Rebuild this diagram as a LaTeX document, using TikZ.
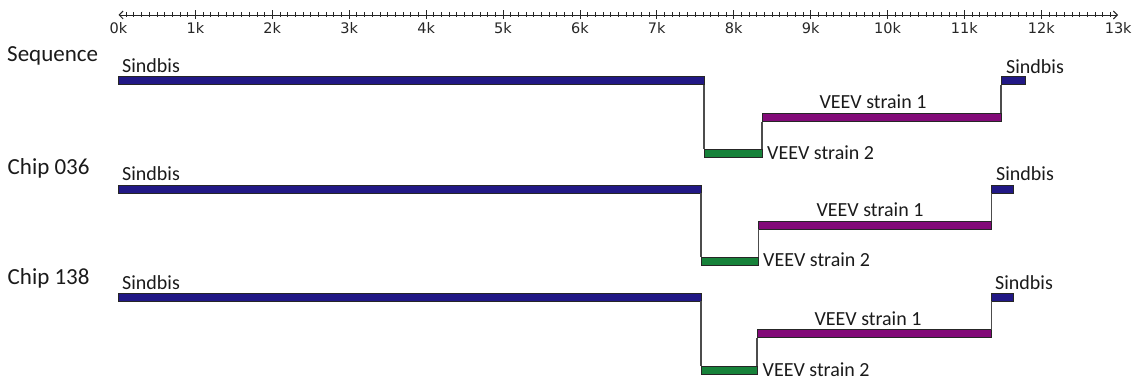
\documentclass[tikz,border=0pt]{standalone}
\usepackage{fontspec}
\setmainfont{Carlito}
\newfontfamily\axisfont{DejaVu Sans}
\usetikzlibrary{arrows.meta}
\definecolor{sbcol}{HTML}{211885}
\definecolor{v1col}{HTML}{820A78}
\definecolor{v2col}{HTML}{17823A}
\definecolor{txt}{HTML}{1A1A1A}
\newcommand{\mkseg}[5]{\node[seg, fill=#5, minimum width={(#3)-(#2)}] (#1) at (#2,#4) {};}
\begin{document}
\begin{tikzpicture}[x=1pt,y=-1pt,
  seg/.style={draw=black!85, line width=0.9pt, inner sep=0pt, outer sep=0pt, minimum height=8.2pt, anchor=north west},
  conn/.style={draw=black!70, line width=1.2pt},
  lbl/.style={font=\fontsize{20}{24}\selectfont, inner sep=0pt, text=txt},
  rowlbl/.style={font=\fontsize{23}{27}\selectfont, inner sep=0pt, anchor=base west, text=txt},
  axlbl/.style={font=\axisfont\fontsize{14.5}{17}\selectfont, inner sep=0pt, anchor=base, text=black!85},
  axis/.style={draw=black!85, line width=0.9pt}]
\useasboundingbox (0,0) rectangle (1144,382);
% axis
\draw[axis, {Straight Barb[length=4pt,width=8pt]}-{Straight Barb[length=4pt,width=8pt]}] (118.5,15) -- (1118,15);
\foreach \i in {1,...,129}{
  \draw[axis, line width=0.8pt] ({118.5+\i*7.69},12.5) -- ({118.5+\i*7.69},17.5);
}
\foreach \k in {1,...,12}{
  \draw[axis, line width=0.8pt] ({118.5+\k*76.9},10.5) -- ({118.5+\k*76.9},19.5);
}
\foreach \k in {0,...,13}{
  \node[axlbl] (ax\k) at ({118.5+\k*76.9},33.5) {\k k};
}
% row 1
\mkseg{s1}{118.5}{704}{76.5}{sbcol}
\mkseg{g1}{704}{762}{149.5}{v2col}
\mkseg{p1}{762}{1001}{113.5}{v1col}
\mkseg{t1}{1001}{1025}{76.5}{sbcol}
\draw[conn] (s1.south east) -- (g1.north west);
\draw[conn] (g1.north east) -- (p1.south west);
\draw[conn] (p1.north east) -- (t1.south west);
\node[rowlbl] (r1) at (7,61.5) {Sequence};
\node[lbl, anchor=base west] (l1a) at (122,73) {Sindbis};
\node[lbl, anchor=base] (l1b) at (873,109) {VEEV strain 1};
\node[lbl, anchor=base west] (l1c) at (767,160) {VEEV strain 2};
\node[lbl, anchor=base west] (l1d) at (1006,73.5) {Sindbis};
% row 2
\mkseg{s2}{118.5}{701}{185}{sbcol}
\mkseg{g2}{701}{758.5}{257.5}{v2col}
\mkseg{p2}{758.5}{991.5}{221}{v1col}
\mkseg{t2}{991.5}{1013}{185}{sbcol}
\draw[conn] (s2.south east) -- (g2.north west);
\draw[conn] (g2.north east) -- (p2.south west);
\draw[conn] (p2.north east) -- (t2.south west);
\node[rowlbl] (r2) at (7.5,174.5) {Chip 036};
\node[lbl, anchor=base west] (l2a) at (122,181) {Sindbis};
\node[lbl, anchor=base] (l2b) at (870,216.5) {VEEV strain 1};
\node[lbl, anchor=base west] (l2c) at (763,267) {VEEV strain 2};
\node[lbl, anchor=base west] (l2d) at (996,180.8) {Sindbis};
% row 3
\mkseg{s3}{118.5}{701}{293.3}{sbcol}
\mkseg{g3}{701}{757}{366}{v2col}
\mkseg{p3}{757}{991.5}{329.5}{v1col}
\mkseg{t3}{991.5}{1013}{293.3}{sbcol}
\draw[conn] (s3.south east) -- (g3.north west);
\draw[conn] (g3.north east) -- (p3.south west);
\draw[conn] (p3.north east) -- (t3.south west);
\node[rowlbl] (r3) at (7.5,284.5) {Chip 138};
\node[lbl, anchor=base west] (l3a) at (122,289.3) {Sindbis};
\node[lbl, anchor=base] (l3b) at (868,325) {VEEV strain 1};
\node[lbl, anchor=base west] (l3c) at (762.5,376) {VEEV strain 2};
\node[lbl, anchor=base west] (l3d) at (995,289.3) {Sindbis};
\end{tikzpicture}
\end{document}
